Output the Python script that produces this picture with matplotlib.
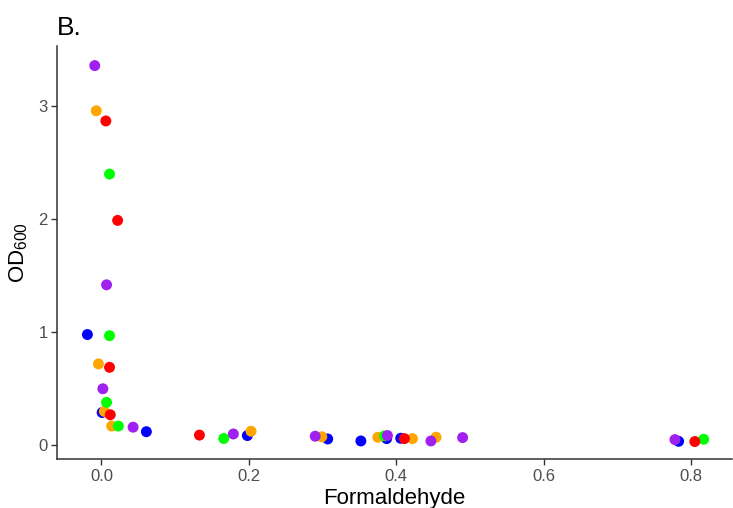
import matplotlib
matplotlib.use("Agg")
import matplotlib.pyplot as plt

plt.rcParams['font.family'] = ['Liberation Sans', 'DejaVu Sans']
plt.rcParams['mathtext.default'] = 'regular'

# Data (Formaldehyde vs OD600), grouped by colour
blue_x = [-0.019, 0.001, 0.061, 0.198, 0.307, 0.352, 0.387, 0.406, 0.783]
blue_y = [0.98, 0.29, 0.12, 0.086, 0.056, 0.038, 0.059, 0.062, 0.035]
orange_x = [-0.007, -0.004, 0.004, 0.014, 0.203, 0.299, 0.375, 0.422, 0.454]
orange_y = [2.96, 0.72, 0.30, 0.17, 0.124, 0.075, 0.071, 0.059, 0.071]
green_x = [0.011, 0.011, 0.007, 0.023, 0.166, 0.384, 0.817]
green_y = [2.40, 0.97, 0.38, 0.17, 0.06, 0.083, 0.053]
red_x = [0.006, 0.022, 0.011, 0.012, 0.133, 0.411, 0.805]
red_y = [2.87, 1.99, 0.69, 0.27, 0.09, 0.059, 0.033]
purple_x = [-0.009, 0.007, 0.002, 0.043, 0.179, 0.290, 0.388, 0.447, 0.490, 0.778]
purple_y = [3.36, 1.42, 0.50, 0.16, 0.10, 0.08, 0.086, 0.038, 0.068, 0.05]

series = [
    (blue_x, blue_y, '#0000FF'),
    (orange_x, orange_y, '#FFA500'),
    (green_x, green_y, '#00FF00'),
    (red_x, red_y, '#FF0000'),
    (purple_x, purple_y, '#A020F0'),
]

xticks = [0.0, 0.2, 0.4, 0.6, 0.8]
xticklabels = ['0.0', '0.2', '0.4', '0.6', '0.8']
yticks = [0, 1, 2, 3]
yticklabels = ['0', '1', '2', '3']

fig = plt.figure(figsize=(7.33, 5.08), dpi=100)
ax = fig.add_axes([0.0782, 0.0959, 0.9200, 0.8128])

for xs, ys, c in series:
    ax.scatter(xs, ys, s=62, color=c, edgecolors='none', zorder=3)

ax.set_xlim(-0.0598, 0.855)
ax.set_ylim(-0.124, 3.53)
ax.set_xticks(xticks)
ax.set_xticklabels(xticklabels)
ax.set_yticks(yticks)
ax.set_yticklabels(yticklabels)

for side in ['top', 'right']:
    ax.spines[side].set_visible(False)
for side in ['left', 'bottom']:
    ax.spines[side].set_color('#333333')
    ax.spines[side].set_linewidth(1.1)

ax.tick_params(axis='both', colors='#333333', length=4, width=1.0,
               labelsize=12, labelcolor='#4D4D4D', pad=3)

ax.set_xlabel('Formaldehyde', fontsize=16, color='black', labelpad=3)
ax.set_ylabel('OD$_{600}$', fontsize=16, color='black', labelpad=6)

fig.text(0.0782, 0.945, 'B.', fontsize=19, color='black', ha='left', va='center')

fig.savefig('out.png', dpi=100, facecolor='white')
